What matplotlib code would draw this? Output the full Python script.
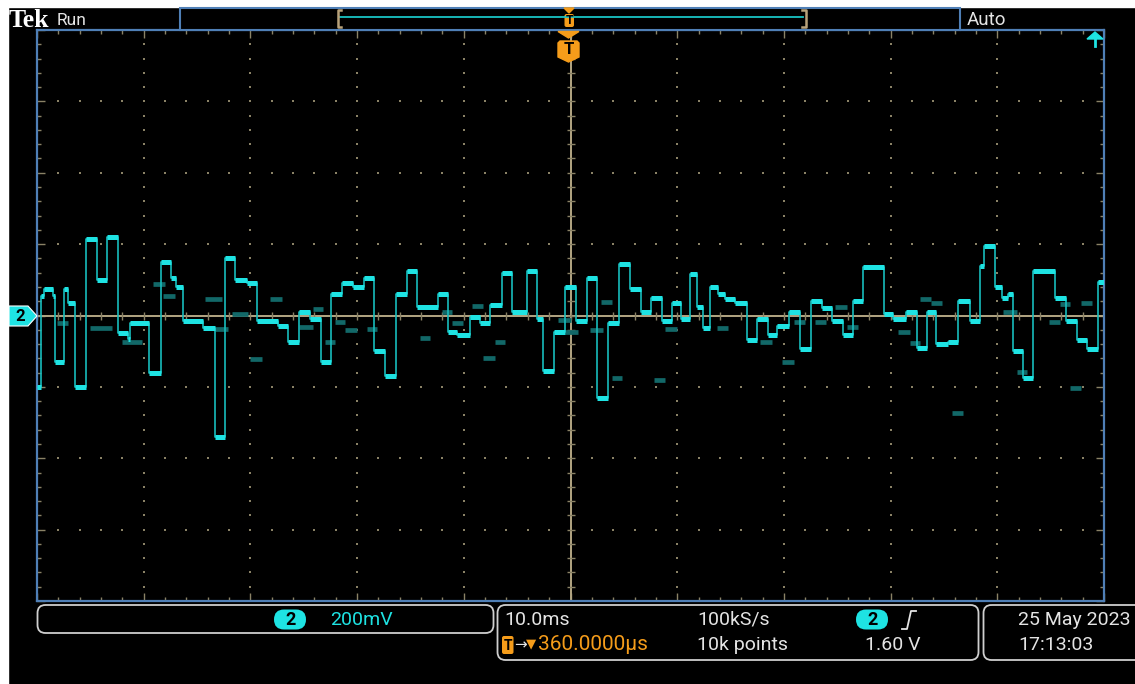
#!/usr/bin/env python
# Oscilloscope screen capture (Tek, CH2 200mV/div, 10 ms/div) redrawn in matplotlib.

import numpy as np
import matplotlib.pyplot as plt
from matplotlib.patches import Rectangle, Polygon, FancyBboxPatch

# --- data ---------------------------------------------------------------
# main (bright) trace: step start times in ms and step levels in mV
main_t = [-50.0, -49.6, -49.3, -48.5, -48.3, -47.5, -47.1, -46.4, -45.4, -44.4,
          -43.4, -42.4, -41.5, -41.3, -39.5, -38.4, -37.4, -37.0, -36.3, -34.4,
          -33.3, -32.4, -31.4, -30.3, -29.4, -27.4, -26.5, -25.4, -24.4, -23.4,
          -22.4, -21.4, -20.4, -19.4, -18.4, -17.4, -16.4, -15.3, -14.4, -12.4,
          -11.5, -10.6, -9.4, -8.5, -7.5, -6.4, -5.5, -4.1, -3.1, -2.6,
          -1.5, -0.5, 0.5, 1.5, 2.5, 3.5, 4.5, 5.6, 6.6, 7.5,
          8.6, 9.5, 10.4, 11.2, 11.9, 12.4, 13.1, 13.8, 14.5, 15.4,
          16.5, 17.5, 18.5, 19.4, 20.5, 21.5, 22.5, 23.6, 24.5, 25.5,
          26.5, 27.4, 29.4, 30.2, 31.4, 32.5, 33.4, 34.3, 35.4, 36.3,
          37.4, 38.4, 38.8, 39.8, 40.4, 41.0, 41.5, 42.4, 43.3, 45.4,
          46.4, 47.5, 48.4, 49.4]
main_v = [-200, 55, 75, 55, -130, 75, 35, -200, 215, 100,
          220, -50, -65, -20, -160, 150, 105, 80, -15, -35,
          -340, 160, 100, 90, -15, -30, -75, 10, -10, -130,
          60, 90, 80, 105, -100, -170, 60, 125, 25, 60,
          -45, -55, -5, -20, 30, 120, 10, 125, -10, -155,
          -45, 80, -15, 105, -230, -20, 145, 75, 10, 50,
          -15, 35, -10, 115, 25, -35, 80, 60, 45, 35,
          -70, -10, -55, -30, 10, -95, 40, 20, -15, -55,
          40, 135, 5, -10, 10, -90, 10, -80, -75, 40,
          -15, 140, 195, 80, 50, 60, -100, -175, 125, 50,
          -15, -70, -95, 95]
t_end = 50.0

# persistence (dim) fragments: start ms, end ms, level mV
ghost_t0 = [-48.1, -45.0, -42.0, -39.1, -38.2, -34.3, -33.3, -31.7, -30.0, -28.2,
            -25.4, -24.1, -23.0, -22.1, -21.1, -19.1, -14.1, -12.0, -11.1, -9.2,
            -8.2, -7.1, -1.2, -0.5, 1.8, 2.9, 3.9, 7.8, 8.9, 13.7,
            17.8, 19.8, 20.9, 22.9, 24.8, 25.9, 30.7, 31.8, 32.8, 33.8,
            35.8, 40.5, 41.8, 44.8, 45.9, 46.8, 47.8]
ghost_t1 = [-47.1, -43.0, -40.2, -38.0, -37.1, -32.7, -32.1, -30.2, -28.9, -27.0,
            -24.1, -23.2, -22.1, -21.1, -20.0, -18.1, -13.2, -11.1, -10.1, -8.2,
            -7.1, -6.1, 0.0, 0.7, 3.0, 3.9, 4.8, 8.9, 10.0, 14.8,
            18.9, 20.9, 22.0, 23.9, 25.9, 26.9, 31.8, 32.8, 33.8, 34.8,
            36.8, 41.8, 42.8, 45.9, 46.8, 47.8, 48.9]
ghost_v = [-22, -34, -73, 87, 56, 45, -39, 3, -123, 45,
           -31, 17, -73, -17, -42, -39, -62, 11, -20, 28,
           -120, -73, -14, -45, -42, 39, -174, -182, -39, -34,
           -73, -129, -17, -17, 25, -31, -45, -76, 45, 34,
           -272, 11, -157, -17, 31, -202, 36]

# readouts
run_state = "Run"
trig_mode = "Auto"
ch_scale = "200mV"
time_scale = "10.0ms"
sample_rate = "100kS/s"
record_len = "10k points"
trig_level = "1.60 V"
trig_delay = "360.0000µs"
date_str = "25 May 2023"
time_str = "17:13:03"

# --- colours --------------------------------------------------------------
CYAN = '#1ee3e3'
CYAN_EDGE = '#17bcbc'
GHOST = '#126868'
TAN = '#b3a683'
DOT = '#8a8266'
BLUE = '#4f7fb6'
ORANGE = '#f59c1a'
TXT = '#e4e4e4'
BOX = '#cfcfcf'
FS = 14

plt.rcParams['font.family'] = ['Roboto', 'DejaVu Sans']

W, H = 1135, 684
fig = plt.figure(figsize=(W / 100, H / 100), dpi=100, facecolor='black')

# background layer in pixel coordinates
bg = fig.add_axes([0, 0, 1, 1], zorder=0)
bg.set_xlim(0, W)
bg.set_ylim(H, 0)
bg.axis('off')
bg.add_patch(Rectangle((0, 0), W, 7, color='white'))
bg.add_patch(Rectangle((0, 0), 8, H, color='white'))

# graticule
gx0, gy0, gx1, gy1 = 37, 30, 1104, 601
ax = fig.add_axes([gx0 / W, 1 - gy1 / H, (gx1 - gx0) / W, (gy1 - gy0) / H], zorder=1)
ax.set_facecolor('black')
ax.set_xlim(-50, 50)
ax.set_ylim(-800, 800)
for s in ax.spines.values():
    s.set_color(BLUE)
    s.set_linewidth(1.6)
ax.set_xticks(np.arange(-50, 51, 10))
ax.set_xticks(np.arange(-50, 51, 2), minor=True)
ax.set_yticks(np.arange(-800, 801, 200))
ax.set_yticks(np.arange(-800, 801, 40), minor=True)
ax.tick_params(which='both', direction='in', top=True, right=True,
               labelbottom=False, labelleft=False, color=DOT, width=1)
ax.tick_params(which='major', length=6)
ax.tick_params(which='minor', length=3)

# dotted division lines
for xv in np.arange(-40, 41, 10):
    if xv == 0:
        continue
    yy = np.arange(-800, 801, 40)
    ax.scatter(np.full(yy.shape, xv), yy, s=1.8, marker='s', color=DOT, linewidths=0)
for yv in np.arange(-600, 601, 200):
    if yv == 0:
        continue
    xx = np.arange(-50, 51, 2)
    ax.scatter(xx, np.full(xx.shape, yv), s=1.8, marker='s', color=DOT, linewidths=0)

# centre cross ticks and trigger/reference lines
ax.axhline(0, color=TAN, lw=1.4, zorder=2)
ax.axvline(0, color=TAN, lw=1.4, zorder=2)
ax.plot(np.arange(-50, 51, 2), np.zeros(51), ls='none', marker='|', ms=6,
        color=DOT, mew=1, zorder=2)
ax.plot(np.zeros(41), np.arange(-800, 801, 40), ls='none', marker='_', ms=6,
        color=DOT, mew=1, zorder=2)

# persistence fragments
ax.hlines(ghost_v, ghost_t0, ghost_t1, color=GHOST, lw=3.4, zorder=3)

# main trace: thin risers + thick flat tops
edges = main_t + [t_end]
ax.step(edges, main_v + [main_v[-1]], where='post', color=CYAN_EDGE, lw=1.2, zorder=4)
ax.hlines(main_v, main_t, edges[1:], color=CYAN, lw=3.6, zorder=5)

# foreground layer in pixel coordinates
fg = fig.add_axes([0, 0, 1, 1], zorder=3)
fg.set_xlim(0, W)
fg.set_ylim(H, 0)
fg.axis('off')
fg.patch.set_alpha(0)

# top status bar
fg.text(9, 27, "Tek", family='Liberation Serif', weight='bold', fontsize=18.5,
        color='white', va='baseline')
fg.text(57, 25, run_state, fontsize=12.5, color=TXT, va='baseline')
fg.add_patch(Rectangle((180, 7.5), 780, 22, facecolor='black', edgecolor=BLUE, lw=1.5))
fg.plot([340, 803], [17, 17], color='#19c4c4', lw=1.3)
fg.plot([341, 337.5, 337.5, 341], [9.5, 9.5, 27, 27], color='#b8a27a', lw=1.8)
fg.plot([802, 805.5, 805.5, 802], [9.5, 9.5, 27, 27], color='#b8a27a', lw=1.8)
fg.add_patch(Polygon([(564, 8), (574, 8), (569, 13)], color=ORANGE))
fg.add_patch(FancyBboxPatch((564.5, 14), 9.5, 13, boxstyle='round,pad=0,rounding_size=2',
                            facecolor=ORANGE, edgecolor='none'))
fg.text(569.3, 21, "T", fontsize=9, weight='bold', color='black', ha='center', va='center')
fg.text(967, 25, trig_mode, fontsize=13.5, color=TXT, va='baseline')

# trigger position marker under the bar
fg.add_patch(Polygon([(558, 31.5), (579, 31.5), (568.5, 38)], color=ORANGE))
fg.add_patch(Polygon([(558, 43), (560, 41), (577, 41), (579, 43), (579, 57), (568.5, 62),
                      (558, 57)], color=ORANGE))
fg.text(568.5, 50, "T", fontsize=12, weight='bold', color='black', ha='center', va='center')

# trigger level arrow, top right
fg.add_patch(Polygon([(1087, 39), (1103, 39), (1095, 32)], color=CYAN))
fg.plot([1095, 1095], [38, 46], color=CYAN, lw=2)

# channel 2 ground marker
fg.add_patch(Polygon([(9, 306), (28, 306), (37, 316), (28, 326), (9, 326)],
                     facecolor=CYAN, edgecolor='white', lw=0.8))
fg.text(20, 316.5, "2", fontsize=12, weight='bold', color='black', ha='center', va='center')

# bottom readout boxes
def rbox(x, y, w, h):
    fg.add_patch(FancyBboxPatch((x, y), w, h, boxstyle='round,pad=0,rounding_size=8',
                                facecolor='none', edgecolor=BOX, lw=1.3))

def badge(x, y):
    fg.add_patch(FancyBboxPatch((x, 609.5), 32, 20, boxstyle='round,pad=0,rounding_size=10',
                                facecolor=CYAN, edgecolor='none'))
    fg.text(x + 16, y, "2", fontsize=13, weight='bold', color='black', ha='center', va='center')

rbox(37.5, 605, 456, 28)
rbox(497.5, 605, 481, 55)
rbox(983.5, 605, 170, 55)

badge(274, 620)
fg.text(330, 620, ch_scale, fontsize=FS, color=CYAN, va='center')

fg.text(504, 620, time_scale, fontsize=FS, color=TXT, va='center')
fg.text(697, 620, sample_rate, fontsize=FS, color=TXT, va='center')
badge(856, 620)
fg.plot([902, 907, 911, 916], [629, 629, 611, 611], color=TXT, lw=1.3)

fg.add_patch(FancyBboxPatch((502, 636), 11.5, 18, boxstyle='round,pad=0,rounding_size=2',
                            facecolor=ORANGE, edgecolor='none'))
fg.text(507.8, 645.5, "T", fontsize=10, weight='bold', color='black', ha='center', va='center')
fg.text(514, 645, "→", fontsize=11, color=TXT, va='center', family=['DejaVu Sans'])
fg.text(526, 644, "▼", fontsize=9.5, color=ORANGE, va='center', family=['DejaVu Sans'])
fg.text(538, 645, trig_delay, fontsize=FS + 1, color=ORANGE, va='center')
fg.text(697, 645, record_len, fontsize=FS, color=TXT, va='center')
fg.text(865, 645, trig_level, fontsize=FS, color=TXT, va='center')

fg.text(1018, 620, date_str, fontsize=FS, color=TXT, va='center')
fg.text(1018, 645, time_str, fontsize=FS, color=TXT, va='center')

fig.savefig('out.png', dpi=100, facecolor='black')
